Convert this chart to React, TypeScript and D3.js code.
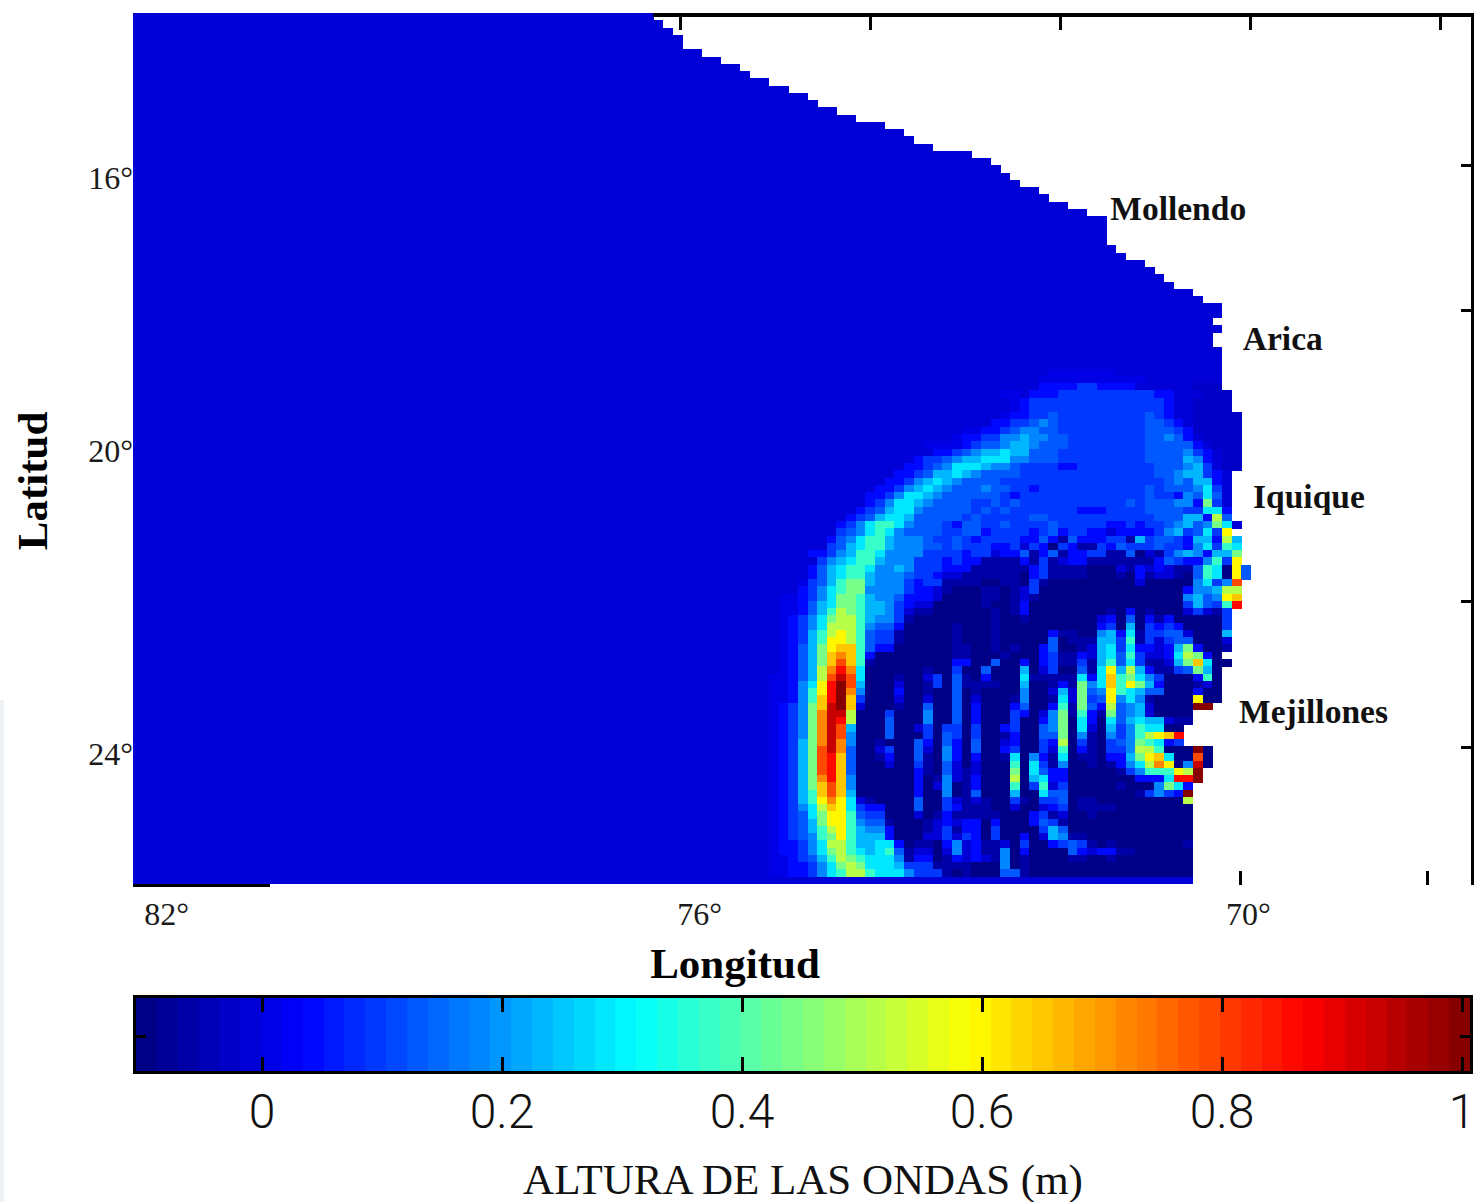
import React, { useEffect, useRef } from 'react';
import * as d3 from 'd3';

// colour classes, each with the bar value it sits at
const levelCodes = 'abtcudefghijklmnopqrs';
const levelValues = [-0.099, -0.064, -0.029, -0.012, 0.006, 0.041, 0.093, 0.128, 0.18, 0.233, 0.285, 0.372, 0.442, 0.512, 0.599, 0.651, 0.721, 0.791, 0.861, 0.931, 1.0];
const oceanCode = 'c';

// number of sea cells in each row, north to south (the rest is land)
const seaCells = [
  54, 55, 56, 57, 57, 59, 61, 63, 64, 66,
  68, 70, 71, 73, 75, 78, 80, 81, 83, 87,
  89, 90, 91, 92, 94, 95, 97, 99, 101, 101,
  101, 101, 102, 103, 105, 106, 107, 108, 110, 111,
  113, 113, 112, 113, 112, 112, 113, 113, 113, 113,
  113, 113, 114, 114, 114, 115, 115, 115, 115, 115,
  115, 115, 115, 114, 114, 114, 114, 114, 114, 114,
  115, 114, 115, 115, 115, 115, 116, 116, 115, 115,
  115, 115, 114, 114, 114, 114, 114, 114, 113, 114,
  113, 113, 113, 113, 113, 112, 110, 110, 109, 109,
  109, 112, 112, 112, 111, 111, 110, 110, 110, 110,
  110, 110, 110, 110, 110, 110, 110, 110, 110, 110,
];

// wave field near the coast: rows from waveFirstRow, columns from waveFirstCol, '.' = open sea
const waveFirstRow = 49;
const waveFirstCol = 66;
const waveRows = [
  '.. ...... ...... ...... ...... ...uuu uuuu.. ...... .....',
  '.. ...... ...... ...... ...... ..uuuu uuuuuu u..... .....',
  '.. ...... ...... ...... ...... ccdddd eedddd c..... ttttt',
  '.. ...... ...... ...... ....uu cdddee eeeeee eeddcc ctttt',
  '.. ...... ...... ...... .....u deeeee eeeeee eeedcc ttttt',
  '.. ...... ...... ...... .....u deeeee eeeeee eeedcc ttttt',
  '.. ...... ...... ...... ....ud deefee eeeeee efedcc ttttt',
  '.. ...... ...... ...... ...dde efgfee eeeeee effedc ttttt',
  '.. ...... ...... ...... uuddef ggffee eeeeee efffed ttttt',
  '.. ...... ...... .....u ddeegg hggffe eeeeee effgfd ctttt',
  '.. ...... ...... ..uuuu deffgh hgfffe eeeeee efffff dcttt',
  '.. ...... ...... ...dde fghhih hfffee eeeeee effffg edctt',
  '.. ...... ...... .deefg hhiiig gfffee eeeeee effffh gdctt',
  '.. ...... ...... ddefgi iihggf eeeedd eeeeee eefffg hectt',
  '.. ...... .....d defhhi hgffff eeeeee eeeeee eeffgh hedct',
  '.. ...... ....dd eghihg ffffee eeeeee eeeeee eeefgf hhdct',
  '.. ...... ...dde ghihgf ffgffe edeeee eeeeee efefff giect',
  '.. ...... ..ddeg iihgff ffffed eeeeee eeeeee efeedg fifct',
  '.. ...... ..degi ihgfff feefef eeeeee eeeeef efffgg dkect',
  '.. ...... .defhi igffff fefefe eeeeee dddeee effffe eiidt',
  '.. ...... defhii hfffff efeeee effeee eeeeee eefffh hdlft',
  '.. .....d egijji gfffed ffeefe eeefee eeedde deefgh fgkic',
  '.. .....e fgijig ffffee ffdeee edefde eddcdd ddeghe fiemt',
  '.. ....df gijjhg ggfeef edeeee ddfdbf dddeeb heffed hhdlh',
  '.. ....ef hijjhg ggffef eeedde cedaed bbedfe eefeed gieji',
  '.. ..ddeg hjjigg ggeeee deecdd fbdfbd deebbf acbegh gdhhk',
  '.. ...egh ijjhgg geeede ddbbbb dbebcd dbbbbb bbdfed dgjem',
  '.. ..dfhi jjiggh geeedd dbbbbb bdebbb baaacb dcdcbb fjiamf',
  '.. ..dfhi jjhggg feedcc bbbbbb adebbb baaaba dbccba fjiamf',
  '.. .uefhj kkhggg edeebb bbaabb aebaaa aaaaaa caaaaa giegp',
  '.. .degij kkgggg eddcba aabbab ceaaaa aaaaaa aaaaad gghll',
  '.u udegik kjhggf dddcaa aabbab cbaaaa aaaaaa aaaaag hfgmn',
  '.u udfhik kjhhge dccaaa aabaab daaaaa aaaaaa aaaaae hfejq',
  '.u udfhjl kjhhge cbbaaa aaabab daaaaa aaabad abaaac ecbe',
  '.u degikl ljhgge baaaaa aaabaa baaaaa aacdaf adbdaa aaae',
  '.u degill ljgffd aaaaab aaabaa aaaaaa aadeah aededa aaae',
  '.u dehjlm ljfeeb aaaaab aaabaa aaadbb aaghdi beeffc aaah',
  '.u dehjmm ljfeeb aaaaab aaabaa aaafab bbhhej beceff aaac',
  '.u dfhkmn njfdda aaaaab baabab aadfaa bchiei ddcdhk daab',
  '.u dfhkno njdaaa aaaaab baaaba aadebb dchifj eccdil kda',
  '.u dfhknp njbaaa aaaaad daafaa dadebb ebhjfi ebbchk niaaa',
  '.u dfhloq oiaaaa aabaae aafaaa haceaa fbimhl hdbbef khaaa',
  'uu dfhlpr piaaab aaceaf badaaa ibbbbb idinjk igeaaa dja',
  'uu dgimqs phaaac aabeaf bbbbaa haabdb kginjm khdaaa bca',
  'uu dgjmqs ogaaad aabaaf abaaaa gaachc kfgmji hffaaa daa',
  'uu dgjnqs neaaac aacaaf acaaab gaabic kefmgi gbaaaa maa',
  'ud egknrs ncaaab aafaaf adaaad faadjb kfdlfg hcaaaa ss',
  'ud egkorr laaaea aagaaf adaaae dacgkb jdbkfg hcaaaa',
  'ud egkorq laaafa aagaaf adaaae aadgka idaifh ihhcbb',
  'ud egkorp haaafa aceaee aeaade aafgka icaheg jiiaa',
  'ud egkorp gaaafa aaeafe aeaabd aaffka gbageg jlmnq',
  'ud ehkoro gaabaa afdafd afaacd aaedla ebaefg kjide',
  'ud ehkpro faacea afcagd afaade aaecja dbaeeg lljaaa sa',
  'ud ehkpqn faabda afbagd adaabi agdbia bbaddh kmniaa pa',
  'ud ehkpqn faaaca aebafc acaaaj aiebga ababdg ilomag ra',
  'ud ehkpqn faaaaa adbafc bcaaak aifdda aaaabe gjjjml s',
  'ud ehkoqn gaaaaa adabgc bdaaal ahidda aaaaaa dddiqq s',
  'ud ehknpn gaaaaa adacga bdaaaj aejcea aaaaba aagkid',
  'ud ehjnpn haaaaa adaaga bfaaah aaiffa aaaaaa begeds',
  'ud ehjmom icbaaa afaaec bcbaae baeefa bbaaaa aaaaal',
  'ud egilnm ieddaa afaaed bbbaac aacdea bbbbaa aaaaaa',
  'ud efikmm jfeeaa acabdb bbbbaa adebca abaaaa aaaaaa',
  'ud efhkmm jgffba aabcdc ddadaa adfeba aaaaaa aaaaaa',
  'ud efhjlm jhggda aabceb ddaeaa aaehfa aaaaaa aaaaaa',
  'ud efgjkm jhhhda aaccec edaeaa dachgb baaaaa aaaaaa',
  'ud degill jhhiid abbadg cdbbca eaadef ebabaa aaaaab',
  'ud degikl jihijf bccacg cdbbga daaaaf dcddbb aaaaaa',
  'uu defhjl kjiiig bddabd cdcbga baaaab baabaa aaaaaa',
  'uu ddegik lkiiih eeebbb baaaga baaaaa aaaaaa aaaaaa',
  'uu ddegij lljiii geeeba baaaff baaaaa aaaaaa aaaaaa',
];

const places = ['Mollendo', 'Arica', 'Iquique', 'Mejillones'];
const placeLon = [71.39, 69.97, 69.86, 70.01];
const placeLat = [16.756, 18.54, 20.71, 23.67];

const latLabels = [16, 20, 24];
const latLabelAt = [16.18, 19.93, 24.1];
const lonLabels = [82, 76, 70];
const lonLabelAt = [81.5, 75.79, 69.91];
const topTicks = [76, 74, 72, 70, 68];
const bottomTicks = [70, 68];
const rightTicks = [16, 18, 22, 24];
const barTicks = [0, 0.2, 0.4, 0.6, 0.8, 1];

const nRows = seaCells.length;
const nCols = 116;
const nBands = 64;

// 64 step jet map
const jet = d3.range(nBands).map(i => {
  const t = (i + 0.5) / nBands;
  const c = (v: number) => Math.round(255 * Math.max(0, Math.min(1, v)));
  return d3.rgb(
    c(Math.min(4 * t - 1.5, -4 * t + 4.5)),
    c(Math.min(4 * t - 0.5, -4 * t + 3.5)),
    c(Math.min(4 * t + 0.5, -4 * t + 2.5))
  ).formatHex();
});

const App = () => {
  const svgRef = useRef<SVGSVGElement>(null);

  useEffect(() => {
    const svg = d3.select(svgRef.current);
    svg.selectAll('*').remove();

    const x = d3.scaleBand<number>().domain(d3.range(nCols)).range([133, 133 + nCols * 9.636]);
    const y = d3.scaleBand<number>().domain(d3.range(nRows)).range([13, 884]);

    const barValue = d3.scaleLinear().domain([0, 1]).range([262, 1462]);
    const barMin = barValue.invert(136);
    const barMax = barValue.invert(1470);
    const color = d3.scaleQuantize<string>().domain([barMin, barMax]).range(jet);

    const lonTop = d3.scaleLinear().domain([76, 68]).range([680.5, 1440]);
    const lonBottom = d3.scaleLinear().domain([70, 68]).range([1240, 1427]);
    const lat = d3.scaleLinear().domain([16, 24]).range([165, 747]);
    const lonText = d3.scaleLinear().domain([76, 70]).range([680, 1240]);

    // faint paper edge of the scan
    svg.append('rect').attr('x', 0).attr('y', 700).attr('width', 4).attr('height', 502).attr('fill', '#eef1f4');

    // heat map cells
    const cells: { r: number; c: number; code: string }[] = [];
    seaCells.forEach((count, r) => {
      const row = (waveRows[r - waveFirstRow] || '').replace(/ /g, '');
      d3.range(count).forEach(c => {
        const ch = row[c - waveFirstCol];
        cells.push({ r, c, code: !ch || ch === '.' ? oceanCode : ch });
      });
    });
    svg.append('g').attr('shape-rendering', 'crispEdges')
      .selectAll('rect').data(cells).enter().append('rect')
      .attr('x', d => x(d.c)!)
      .attr('y', d => y(d.r)!)
      .attr('width', x.bandwidth() + 0.4)
      .attr('height', y.bandwidth() + 0.4)
      .attr('fill', d => color(levelValues[levelCodes.indexOf(d.code)]));

    // frame pieces and ticks
    const frame = svg.append('g').attr('stroke', '#000').attr('shape-rendering', 'crispEdges').attr('fill', 'none');
    frame.append('line').attr('x1', x(seaCells[0])!).attr('x2', 1474).attr('y1', 15).attr('y2', 15).attr('stroke-width', 4);
    frame.append('line').attr('x1', 1472).attr('x2', 1472).attr('y1', 13).attr('y2', 885).attr('stroke-width', 3);
    frame.append('line').attr('x1', 133).attr('x2', 270).attr('y1', 885).attr('y2', 885).attr('stroke-width', 3);
    topTicks.forEach(t => {
      frame.append('line').attr('x1', lonTop(t)).attr('x2', lonTop(t)).attr('y1', 15).attr('y2', 30).attr('stroke-width', 3);
    });
    bottomTicks.forEach(t => {
      frame.append('line').attr('x1', lonBottom(t)).attr('x2', lonBottom(t)).attr('y1', 871).attr('y2', 885).attr('stroke-width', 3);
    });
    rightTicks.forEach(t => {
      frame.append('line').attr('x1', 1461).attr('x2', 1472).attr('y1', lat(t)).attr('y2', lat(t)).attr('stroke-width', 3);
    });

    const serif = '"Liberation Serif", serif';

    latLabels.forEach((t, i) => {
      svg.append('text').attr('x', 133).attr('y', lat(latLabelAt[i]) + 11)
        .attr('text-anchor', 'end').attr('font-family', serif).attr('font-size', 32).attr('fill', '#1a1a1a')
        .text(`${t}°`);
    });
    lonLabels.forEach((t, i) => {
      svg.append('text').attr('x', lonText(lonLabelAt[i])).attr('y', 925)
        .attr('text-anchor', 'middle').attr('font-family', serif).attr('font-size', 32).attr('fill', '#1a1a1a')
        .text(`${t}°`);
    });

    places.forEach((p, i) => {
      svg.append('text').attr('x', lonText(placeLon[i])).attr('y', lat(placeLat[i]))
        .attr('font-family', serif).attr('font-weight', 700).attr('font-size', 33.5).attr('fill', '#111')
        .text(p);
    });

    svg.append('text').attr('x', 735).attr('y', 978).attr('text-anchor', 'middle')
      .attr('font-family', serif).attr('font-weight', 700).attr('font-size', 43).text('Longitud');
    svg.append('text').attr('transform', 'translate(47,481) rotate(-90)').attr('text-anchor', 'middle')
      .attr('font-family', serif).attr('font-weight', 700).attr('font-size', 43).text('Latitud');

    // colour bar
    const band = d3.scaleBand<number>().domain(d3.range(nBands)).range([136, 1470]);
    svg.append('g').attr('shape-rendering', 'crispEdges')
      .selectAll('rect').data(jet).enter().append('rect')
      .attr('x', (_, i) => band(i)!)
      .attr('y', 998).attr('width', band.bandwidth() + 0.4).attr('height', 73)
      .attr('fill', d => d);
    const bar = svg.append('g').attr('stroke', '#000').attr('shape-rendering', 'crispEdges').attr('fill', 'none');
    bar.append('rect').attr('x', 134.5).attr('y', 996.5).attr('width', 1337).attr('height', 76).attr('stroke-width', 3);
    barTicks.forEach(t => {
      bar.append('line').attr('x1', barValue(t)).attr('x2', barValue(t)).attr('y1', 998).attr('y2', 1012).attr('stroke-width', 3);
      bar.append('line').attr('x1', barValue(t)).attr('x2', barValue(t)).attr('y1', 1057).attr('y2', 1071).attr('stroke-width', 3);
    });
    bar.append('line').attr('x1', 136).attr('x2', 146).attr('y1', 1036).attr('y2', 1036).attr('stroke-width', 3);
    bar.append('line').attr('x1', 1460).attr('x2', 1470).attr('y1', 1036).attr('y2', 1036).attr('stroke-width', 3);

    barTicks.forEach(t => {
      svg.append('text').attr('x', barValue(t)).attr('y', 1128).attr('text-anchor', 'middle')
        .attr('font-family', 'Roboto, "Liberation Sans", sans-serif').attr('font-weight', 300)
        .attr('font-size', 48).attr('fill', '#111').text(String(t));
    });

    svg.append('text').attr('x', 803).attr('y', 1194).attr('text-anchor', 'middle')
      .attr('font-family', serif).attr('font-size', 43).attr('fill', '#111').text('ALTURA DE LAS ONDAS (m)');
  }, []);

  return (
    <svg ref={svgRef} width={1478} height={1202} style={{ position: 'absolute', left: 0, top: 0, display: 'block' }}></svg>
  );
};

export default App;
